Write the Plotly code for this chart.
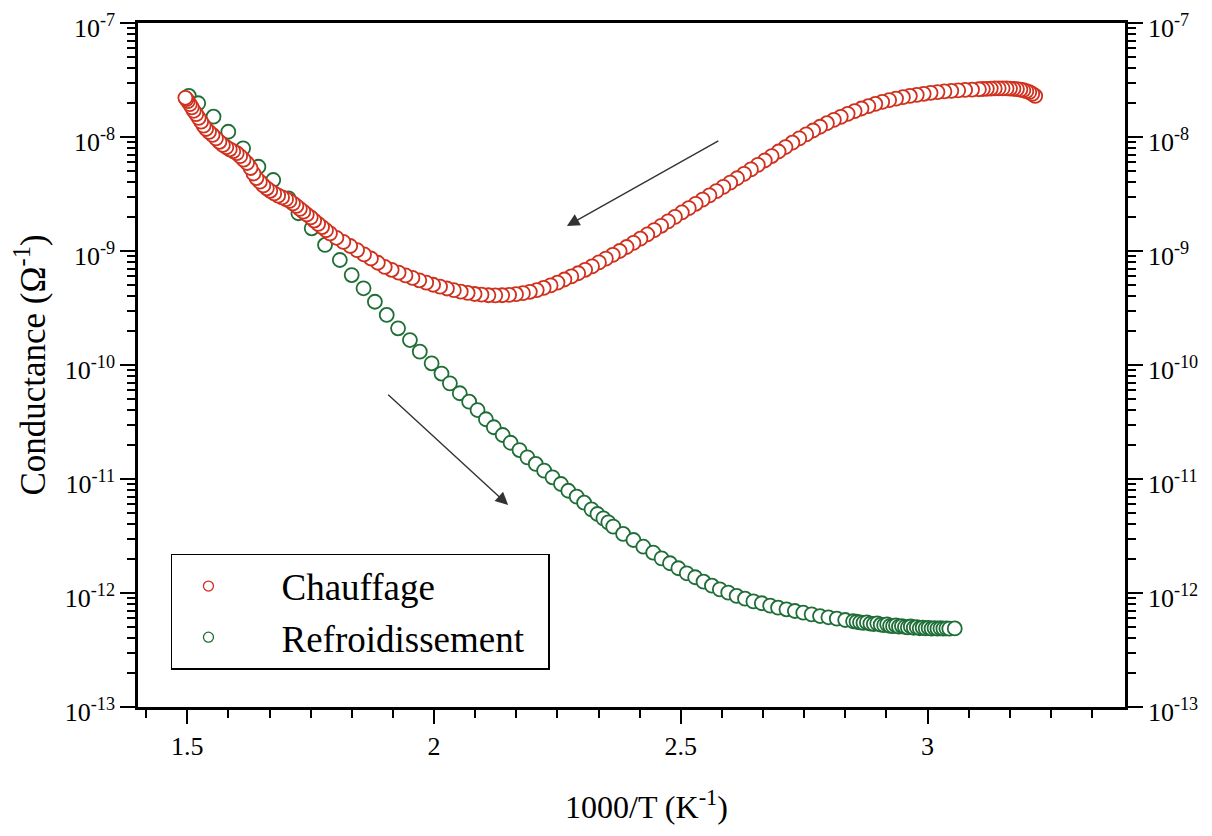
import numpy as np
import plotly.graph_objects as go

# ---------------- data (1000/T in K^-1, log10 of conductance in ohm^-1) ----------------
chauffage_x = [3.218, 3.212, 3.206, 3.200, 3.194, 3.188, 3.181, 3.174, 3.167, 3.160, 3.152, 3.144,
               3.136, 3.128, 3.120, 3.112, 3.104,
               3.090, 3.076, 3.062, 3.048, 3.034, 3.020, 3.006, 2.992, 2.978, 2.964, 2.950, 2.936,
               2.922, 2.908, 2.894, 2.880, 2.866, 2.852, 2.838, 2.824, 2.810, 2.796, 2.782, 2.768,
               2.754, 2.740, 2.726, 2.712, 2.698, 2.684, 2.670, 2.656, 2.642, 2.628, 2.614, 2.600,
               2.586, 2.572, 2.558, 2.544, 2.530, 2.516, 2.502, 2.488, 2.474, 2.460, 2.446, 2.432,
               2.418, 2.404, 2.390, 2.376, 2.362, 2.348, 2.334, 2.320, 2.306, 2.292, 2.278, 2.264,
               2.250, 2.236, 2.222, 2.208, 2.194, 2.180, 2.166, 2.152, 2.138, 2.124, 2.110, 2.096,
               2.082, 2.068, 2.054, 2.040, 2.026, 2.012, 1.998, 1.984, 1.970, 1.956, 1.942, 1.928,
               1.914, 1.900, 1.886, 1.872, 1.858, 1.844, 1.830, 1.816, 1.802,
               1.789, 1.781, 1.773, 1.765, 1.757, 1.750, 1.742, 1.735, 1.728, 1.721, 1.714, 1.707,
               1.700, 1.692, 1.684, 1.676, 1.668, 1.661, 1.654, 1.647, 1.640, 1.634, 1.628, 1.621,
               1.614, 1.607, 1.600, 1.593, 1.586, 1.579, 1.572, 1.565, 1.558, 1.551, 1.544, 1.538,
               1.533, 1.528, 1.523, 1.518, 1.513, 1.509, 1.505, 1.501, 1.498, 1.496]
chauffage_log10G = [-7.640, -7.622, -7.607, -7.598, -7.590, -7.584, -7.580, -7.577, -7.575, -7.574,
                    -7.573, -7.573, -7.574, -7.575, -7.577, -7.579, -7.581,
                    -7.584, -7.587, -7.591, -7.595, -7.600, -7.606, -7.613, -7.621, -7.630, -7.640,
                    -7.651, -7.663, -7.677, -7.692, -7.710, -7.729, -7.750, -7.773, -7.797, -7.823,
                    -7.850, -7.879, -7.910, -7.943, -7.977, -8.012, -8.050, -8.088, -8.127, -8.167,
                    -8.206, -8.245, -8.284, -8.323, -8.362, -8.400, -8.438, -8.475, -8.512, -8.549,
                    -8.586, -8.624, -8.662, -8.701, -8.740, -8.779, -8.817, -8.855, -8.892, -8.929,
                    -8.965, -9.000, -9.034, -9.067, -9.100, -9.135, -9.165, -9.195, -9.223, -9.250,
                    -9.277, -9.302, -9.324, -9.343, -9.358, -9.370, -9.379, -9.385, -9.388, -9.389,
                    -9.388, -9.383, -9.377, -9.368, -9.357, -9.344, -9.329, -9.313, -9.296, -9.277,
                    -9.257, -9.236, -9.214, -9.190, -9.165, -9.140, -9.103, -9.066, -9.030, -8.992,
                    -8.956, -8.920, -8.884,
                    -8.845, -8.818, -8.790, -8.762, -8.733, -8.705, -8.680, -8.655, -8.630, -8.605,
                    -8.582, -8.560, -8.545, -8.530, -8.514, -8.495, -8.472, -8.450, -8.425, -8.392,
                    -8.360, -8.320, -8.272, -8.228, -8.198, -8.168, -8.142, -8.125, -8.108, -8.090,
                    -8.070, -8.042, -8.012, -7.982, -7.955, -7.930, -7.900, -7.866, -7.832, -7.800,
                    -7.770, -7.740, -7.712, -7.686, -7.668, -7.656]

refroid_x = [1.503, 1.522, 1.553, 1.583, 1.613, 1.644, 1.674, 1.705, 1.725, 1.752, 1.779, 1.809,
             1.833, 1.857, 1.880, 1.904, 1.927, 1.951, 1.971, 1.995, 2.015, 2.032, 2.052, 2.071,
             2.088, 2.105, 2.121, 2.139, 2.155, 2.173, 2.189, 2.206, 2.223, 2.240, 2.257, 2.272,
             2.289, 2.304, 2.319, 2.331, 2.343, 2.353, 2.363, 2.383, 2.404, 2.424, 2.444, 2.461,
             2.478, 2.495, 2.512, 2.529, 2.546, 2.563, 2.579, 2.596, 2.613, 2.630, 2.647, 2.664,
             2.681, 2.697, 2.714, 2.731, 2.748, 2.765, 2.782, 2.799, 2.816, 2.833, 2.849,
             2.856, 2.863, 2.870, 2.877, 2.884, 2.891, 2.898, 2.905, 2.912, 2.918, 2.924, 2.930,
             2.936, 2.942, 2.948, 2.954, 2.960, 2.966, 2.972, 2.978, 2.984, 2.990, 2.996, 3.002,
             3.008, 3.014, 3.020, 3.026, 3.032, 3.038, 3.044, 3.055]
refroid_log10G = [-7.640, -7.704, -7.822, -7.954, -8.099, -8.261, -8.377, -8.538, -8.669, -8.801,
                  -8.947, -9.079, -9.211, -9.327, -9.445, -9.561, -9.678, -9.781, -9.883, -9.985,
                  -10.075, -10.161, -10.248, -10.322, -10.395, -10.476, -10.546, -10.614, -10.682,
                  -10.746, -10.810, -10.868, -10.927, -10.985, -11.044, -11.103, -11.155, -11.208,
                  -11.266, -11.307, -11.345, -11.380, -11.418, -11.482, -11.535, -11.594, -11.646,
                  -11.696, -11.739, -11.783, -11.827, -11.862, -11.901, -11.936, -11.968, -11.997,
                  -12.026, -12.050, -12.073, -12.090, -12.111, -12.129, -12.143, -12.158, -12.173,
                  -12.187, -12.202, -12.213, -12.225, -12.237, -12.248,
                  -12.252, -12.257, -12.262, -12.258, -12.268, -12.272, -12.266, -12.278, -12.282,
                  -12.275, -12.288, -12.291, -12.284, -12.295, -12.290, -12.298, -12.302, -12.294,
                  -12.305, -12.300, -12.309, -12.304, -12.310, -12.306, -12.312, -12.308, -12.313,
                  -12.309, -12.312, -12.310, -12.313, -12.311]

x_tick_vals = [1.5, 2, 2.5, 3]
x_tick_text = ["1.5", "2", "2.5", "3"]
y_exponents = [-7, -8, -9, -10, -11, -12, -13]
y_tick_text = ["10<sup>%d</sup>" % e for e in y_exponents]
y_tick_vals = [10.0 ** e for e in y_exponents]
y_minor_vals = [m * 10.0 ** e for e in range(-13, -7) for m in range(2, 10)]

series_names = ["Chauffage", "Refroidissement"]
x_title = "1000/T (K<sup>-1</sup>)"
y_title = "Conductance (Ω<sup>-1</sup>)"

# ---------------- styling ----------------
RED = "#d0301e"
GREEN = "#1f6e37"
FONT = "Liberation Serif, Times New Roman, serif"
NBSP = "\u00a0"

chauffage_G = 10.0 ** np.array(chauffage_log10G)
refroid_G = 10.0 ** np.array(refroid_log10G)

fig = go.Figure()

fig.add_trace(go.Scatter(
    x=refroid_x, y=refroid_G, mode="markers", showlegend=False, hoverinfo="skip",
    marker=dict(symbol="circle", size=14, color="white", line=dict(color=GREEN, width=1.8)),
))
fig.add_trace(go.Scatter(
    x=chauffage_x, y=chauffage_G, mode="markers", showlegend=False, hoverinfo="skip",
    marker=dict(symbol="circle", size=14, color="white", line=dict(color=RED, width=1.8)),
))
# invisible trace to activate right-hand axis
fig.add_trace(go.Scatter(
    x=refroid_x, y=refroid_G, yaxis="y2", mode="markers", showlegend=False, hoverinfo="skip",
    marker=dict(opacity=0),
))
# legend entries
fig.add_trace(go.Scatter(
    x=[None], y=[None], mode="markers", name=NBSP * 4 + series_names[0],
    marker=dict(symbol="circle", size=10, color="white", line=dict(color=RED, width=1.3)),
))
fig.add_trace(go.Scatter(
    x=[None], y=[None], mode="markers", name=NBSP * 4 + series_names[1] + NBSP * 2,
    marker=dict(symbol="circle", size=10, color="white", line=dict(color=GREEN, width=1.3)),
))

yaxis_common = dict(
    type="log", range=[-13, -7], automargin=False,
    tickmode="array", tickvals=y_tick_vals, ticktext=y_tick_text,
    ticklabeloverflow="allow", ticklabelshift=5,
    ticks="outside", ticklen=15, tickwidth=2, tickcolor="black",
    minor=dict(tickmode="array", tickvals=y_minor_vals, ticks="outside", ticklen=8,
               tickwidth=2, tickcolor="black"),
    showgrid=False, zeroline=False,
    showline=True, linecolor="black", linewidth=2.5,
    tickfont=dict(family=FONT, size=26, color="black"),
)

fig.update_layout(
    width=1196, height=820,
    margin=dict(l=130, r=79, t=15, b=121),
    paper_bgcolor="white", plot_bgcolor="white",
    font=dict(family=FONT, color="black"),
    xaxis=dict(
        range=[1.4, 3.4], automargin=False,
        tickmode="array", tickvals=x_tick_vals, ticktext=x_tick_text,
        ticks="outside", ticklen=14, tickwidth=2, tickcolor="black",
        minor=dict(tick0=1.5, dtick=0.5 / 6, ticks="outside", ticklen=8, tickwidth=2,
                   tickcolor="black"),
        showgrid=False, zeroline=False,
        showline=True, linecolor="black", linewidth=2.5, mirror=True,
        tickfont=dict(family=FONT, size=26, color="black"),
    ),
    yaxis=dict(
        **yaxis_common,
        title=dict(text=y_title, font=dict(family=FONT, size=35, color="black"), standoff=22),
    ),
    yaxis2=dict(**yaxis_common, overlaying="y", side="right"),
    legend=dict(
        x=0.0334, y=0.2237, xanchor="left", yanchor="top",
        bgcolor="white", bordercolor="black", borderwidth=1.5,
        font=dict(family=FONT, size=37, color="black"),
        itemwidth=62, tracegroupgap=0,
    ),
    annotations=[
        dict(text=x_title, xref="paper", yref="paper", x=0.5147, y=-0.1433,
             xanchor="center", yanchor="middle", showarrow=False,
             font=dict(family=FONT, size=32, color="black")),
        dict(x=2.269, y=-8.781, ax=2.579, ay=-8.026, xref="x", yref="y", axref="x", ayref="y",
             text="", showarrow=True, arrowhead=2, arrowsize=1.8, arrowwidth=1.4,
             arrowcolor="#333333"),
        dict(x=2.150, y=-11.228, ax=1.904, ay=-10.248, xref="x", yref="y", axref="x", ayref="y",
             text="", showarrow=True, arrowhead=2, arrowsize=1.8, arrowwidth=1.4,
             arrowcolor="#333333"),
    ],
)

fig.write_html("out.html")
